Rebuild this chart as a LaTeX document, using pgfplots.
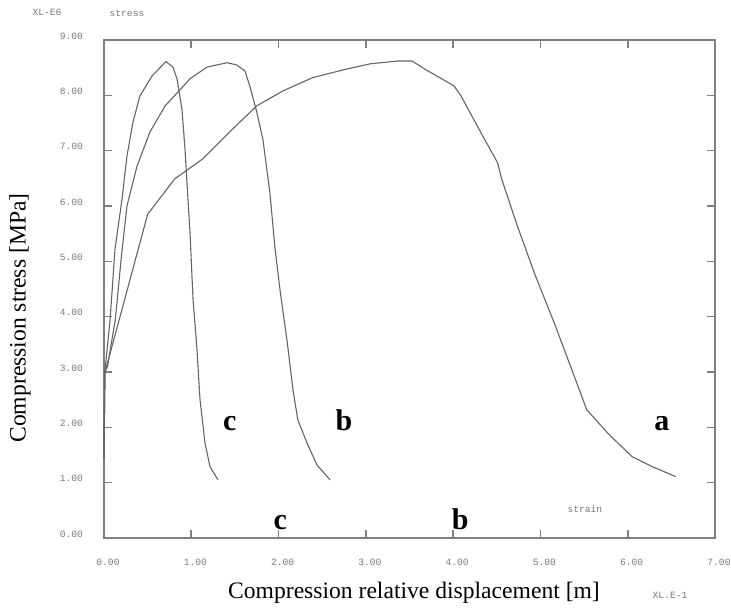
\documentclass[border=0pt]{standalone}
\usepackage{pgfplots}
\pgfplotsset{compat=1.18}
\usepackage{fontspec}
\setmainfont{Liberation Serif}
\newfontfamily\monofont{Liberation Mono}

\definecolor{framegray}{RGB}{128,128,128}
\definecolor{curvegray}{RGB}{100,100,100}
\definecolor{labelgray}{RGB}{120,120,120}

\begin{document}
\begin{tikzpicture}
\useasboundingbox (-52pt,-37pt) rectangle (313.5pt,269pt);
\begin{axis}[
  at={(0,0)}, anchor=south west,
  scale only axis,
  width=305.5pt, height=249pt,
  xmin=0, xmax=7, ymin=0, ymax=9,
  xtick={0,1,...,7}, ytick={0,1,...,9},
  tick align=inside, tick pos=both,
  major tick length=4pt,
  axis line style={framegray, line width=1pt},
  every tick/.style={framegray, line width=0.8pt},
  /pgf/number format/.cd, fixed, fixed zerofill, precision=2, assume math mode=true,
  /pgfplots/.cd,
  xticklabel style={font=\monofont\fontsize{4.8}{5}\selectfont, text=labelgray, anchor=north, yshift=-7pt, xshift=2pt},
  yticklabel style={font=\monofont\fontsize{4.8}{5}\selectfont, text=labelgray, anchor=east, xshift=-7pt, yshift=2pt},
  clip=false,
]
% curve a
\addplot[curvegray, line width=0.55pt] coordinates {
 (0.00,1.45) (0.01,3.00) (0.05,3.22) (0.50,5.85) (0.81,6.49) (1.13,6.85)
 (1.44,7.34) (1.75,7.81) (2.05,8.08) (2.39,8.32) (2.74,8.46) (3.05,8.57)
 (3.36,8.62) (3.53,8.62) (3.67,8.48) (4.01,8.17) (4.09,7.99) (4.32,7.32)
 (4.51,6.78) (4.55,6.52) (4.74,5.62) (4.94,4.75) (5.17,3.84) (5.36,3.04)
 (5.53,2.32) (5.78,1.88) (6.05,1.47) (6.28,1.29) (6.55,1.11)
};
% curve b
\addplot[curvegray, line width=0.55pt] coordinates {
 (0.00,1.45) (0.01,3.00) (0.04,3.10) (0.13,3.95) (0.20,5.10) (0.263,6.00)
 (0.378,6.72) (0.527,7.34) (0.70,7.81) (0.848,8.06) (0.985,8.30) (1.18,8.51)
 (1.41,8.59) (1.52,8.55) (1.615,8.44) (1.67,8.17) (1.75,7.70) (1.82,7.21)
 (1.90,6.25) (1.96,5.22) (2.02,4.44) (2.10,3.53) (2.165,2.68) (2.22,2.14)
 (2.325,1.72) (2.44,1.32) (2.59,1.05)
};
% curve c
\addplot[curvegray, line width=0.55pt] coordinates {
 (0.00,1.45) (0.01,3.00) (0.07,3.95) (0.126,5.22) (0.206,6.12) (0.263,6.90)
 (0.332,7.52) (0.412,7.99) (0.55,8.35) (0.71,8.61) (0.79,8.51) (0.836,8.30)
 (0.893,7.75) (0.928,7.03) (0.95,6.43) (0.985,5.53) (1.02,4.31) (1.065,3.41)
 (1.10,2.50) (1.157,1.72) (1.214,1.29) (1.306,1.05)
};
% curve letters, set on a common baseline
\tikzset{curveletter/.style={font=\bfseries\fontsize{15}{16}\selectfont, anchor=base, inner sep=0pt}}
\node[curveletter] at (axis cs:1.44,1.95) {c};
\node[curveletter] at (axis cs:2.75,1.95) {b};
\node[curveletter] at (axis cs:6.39,1.95) {a};
\node[curveletter] at (axis cs:2.02,0.16) {c};
\node[curveletter] at (axis cs:4.08,0.16) {b};
\node[font=\monofont\fontsize{4.8}{5}\selectfont, text=labelgray] at (axis cs:5.51,0.53) {strain};
\end{axis}
% plotter annotations
\node[font=\monofont\fontsize{4.8}{5}\selectfont, text=labelgray] at (-28.5pt,263pt) {XL-E6};
\node[font=\monofont\fontsize{4.8}{5}\selectfont, text=labelgray] at (11.5pt,262.5pt) {stress};
\node[font=\monofont\fontsize{4.8}{5}\selectfont, text=labelgray] at (283pt,-28.5pt) {XL.E-1};
% axis titles
\node[font=\fontsize{11.8}{13}\selectfont] at (155pt,-27.5pt) {Compression relative displacement [m]};
\node[font=\fontsize{11.8}{13}\selectfont, rotate=90] at (-42pt,110pt) {Compression stress [MPa]};
\end{tikzpicture}
\end{document}
